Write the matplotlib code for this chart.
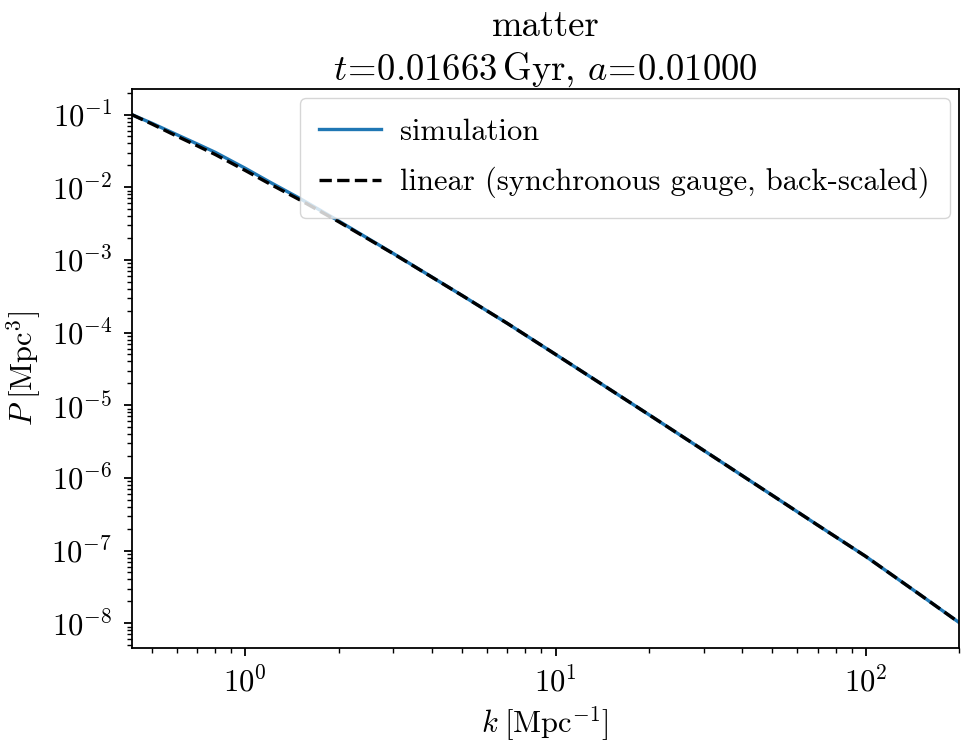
import numpy as np
import matplotlib
matplotlib.use("Agg")
import matplotlib.pyplot as plt

# Data
k_values = [0.43, 0.5, 0.6, 0.7, 0.8, 1.0, 1.2, 1.5, 2.0, 3.0, 5.0, 7.0,
            10.0, 15.0, 20.0, 30.0, 50.0, 70.0, 100.0, 150.0, 200.0]
log_P_linear = [-1.00, -1.13, -1.295, -1.43, -1.55, -1.77, -1.955, -2.175,
                -2.475, -2.915, -3.49, -3.875, -4.30, -4.785, -5.13, -5.62,
                -6.24, -6.65, -7.08, -7.61, -7.99]
log_P_simulation = [-1.00, -1.12, -1.275, -1.405, -1.52, -1.74, -1.93, -2.155,
                    -2.465, -2.912, -3.49, -3.875, -4.30, -4.785, -5.13, -5.62,
                    -6.24, -6.65, -7.08, -7.61, -7.99]

title_text = "matter\n$t\\!=\\!0.01663\\,\\mathrm{Gyr}$, $a\\!=\\!0.01000$"
xlabel_text = "$k\\;[\\mathrm{Mpc}^{-1}]$"
ylabel_text = "$P\\;[\\mathrm{Mpc}^3]$"
label_sim = "simulation"
label_lin = "linear (synchronous gauge, back-scaled)"

plt.rcParams['font.family'] = 'serif'
plt.rcParams['font.serif'] = ['cmr10', 'DejaVu Serif']
plt.rcParams['mathtext.fontset'] = 'cm'
plt.rcParams['axes.formatter.use_mathtext'] = True
plt.rcParams['axes.unicode_minus'] = False
plt.rcParams['font.size'] = 22

k = np.array(k_values)
P_lin = 10.0 ** np.array(log_P_linear)
P_sim = 10.0 ** np.array(log_P_simulation)

fig = plt.figure(figsize=(9.61, 7.43), dpi=100)
ax = fig.add_axes([0.137, 0.128, 0.861, 0.752])
ax.loglog(k, P_sim, color='#1f77b4', lw=2.4, label=label_sim)
ax.loglog(k, P_lin, color='black', lw=2.4, ls='--', label=label_lin)
ax.set_xlim(k.min(), k.max())
ax.set_xlabel(xlabel_text, labelpad=4)
ax.set_ylabel(ylabel_text, labelpad=6)
ax.set_title(title_text, linespacing=1.25, pad=6)
ax.tick_params(which='major', length=6, width=1.3, pad=8)
ax.tick_params(which='minor', length=3.5, width=1.0)
for s in ax.spines.values():
    s.set_linewidth(1.3)
ax.legend(loc='upper right', borderaxespad=0.3, borderpad=0.65,
          labelspacing=0.7, handlelength=2.0, handletextpad=0.65)

fig.savefig("out.png", dpi=100)
